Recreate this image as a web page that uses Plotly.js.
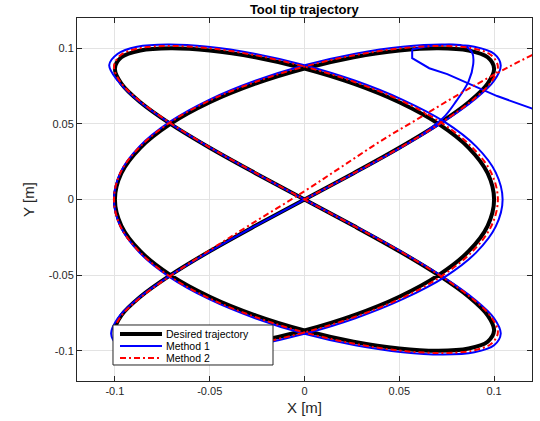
<!DOCTYPE html>
<html>
<head>
<meta charset="utf-8">
<script src="https://cdn.plot.ly/plotly-3.0.1.min.js"></script>
<style>html,body{margin:0;padding:0;background:#fff;}#chart{width:540px;height:421px;}</style>
</head>
<body>
<div id="chart"></div>
<script>
// Desired trajectory
var desiredX = [0,-0.0259,-0.05,-0.0707,-0.0866,-0.0966,-0.1,-0.0966,-0.0866,-0.0707,-0.05,-0.0259,
  0,0.0259,0.05,0.0707,0.0866,0.0966,0.1,0.0966,0.0866,0.0707,0.05,0.0259,
  0,-0.0259,-0.05,-0.0707,-0.0866,-0.0966,-0.1,-0.0966,-0.0866,-0.0707,-0.05,-0.0259,
  0,0.0259,0.05,0.0707,0.0866,0.0966,0.1,0.0966,0.0866,0.0707,0.05,0.0259,
  0,-0.0259,-0.05,-0.0707,-0.0866,-0.0966,-0.1,-0.0966,-0.0866,-0.0707,-0.05,-0.0259,
  0,0.0259,0.05,0.0707,0.0866,0.0966,0.1,0.0966,0.0866,0.0707,0.05,0.0259,
  0];
var desiredY = [0,-0.0174,-0.0342,-0.05,-0.0643,-0.0766,-0.0866,-0.094,-0.0985,-0.1,-0.0985,-0.094,
  -0.0866,-0.0766,-0.0643,-0.05,-0.0342,-0.0174,0,0.0174,0.0342,0.05,0.0643,0.0766,
  0.0866,0.094,0.0985,0.1,0.0985,0.094,0.0866,0.0766,0.0643,0.05,0.0342,0.0174,
  0,-0.0174,-0.0342,-0.05,-0.0643,-0.0766,-0.0866,-0.094,-0.0985,-0.1,-0.0985,-0.094,
  -0.0866,-0.0766,-0.0643,-0.05,-0.0342,-0.0174,0,0.0174,0.0342,0.05,0.0643,0.0766,
  0.0866,0.094,0.0985,0.1,0.0985,0.094,0.0866,0.0766,0.0643,0.05,0.0342,0.0174,
  0];

// Method 1: start transient (enters from outside the view)
var m1StartX = [0.17,0.1205,0.1016,0.0874,0.0753,0.0658,0.0568,0.0568];
var m1StartY = [0.036,0.0599,0.0684,0.0763,0.0829,0.0868,0.0934,0.0993];
// Method 1: rest of the path
var m1X = [0.0568,0.066,0.077,0.0845,0.0885,0.089,0.0865,0.080,0.0732,0.062,0.051,0.0265,
  0,-0.0264,-0.051,-0.0721,-0.0883,-0.0985,-0.102,-0.0985,-0.0883,-0.0721,-0.051,-0.0264,
  0,0.0268,0.0518,0.0739,0.0905,0.1009,0.1045,0.1009,0.0905,0.0739,0.0518,0.0268,
  0,-0.0264,-0.051,-0.0721,-0.0883,-0.0985,-0.103,-0.0985,-0.0883,-0.0721,-0.051,-0.0264,
  0,0.0268,0.0518,0.0732,0.0896,0.1,0.1035,0.1,0.0896,0.0732,0.0518,0.0268,
  0,-0.026,-0.0503,-0.0711,-0.087,-0.0971,-0.1005,-0.0971,-0.087,-0.0711,-0.0503,-0.026,
  0,0.0268,0.0518,0.0732,0.0896,0.1,0.1035,0.1,0.0896,0.0732,0.0518,0.0268,
  0];
var m1Y = [0.0993,0.1015,0.1025,0.1015,0.097,0.0895,0.078,0.065,0.054,0.043,0.0345,0.0176,
  0,-0.0178,-0.0351,-0.0513,-0.0659,-0.0785,-0.0888,-0.0964,-0.101,-0.1025,-0.101,-0.0964,
  -0.0888,-0.0785,-0.0659,-0.0513,-0.0351,-0.0178,0,0.0178,0.0351,0.0513,0.0659,0.0785,
  0.0888,0.0964,0.101,0.1025,0.101,0.0964,0.0888,0.0785,0.0659,0.0513,0.0351,0.0178,
  0,-0.0178,-0.0351,-0.0513,-0.0659,-0.0785,-0.0888,-0.0964,-0.101,-0.1025,-0.101,-0.0964,
  -0.0888,-0.0785,-0.0659,-0.0513,-0.0351,-0.0178,0,0.0178,0.0351,0.0513,0.0659,0.0785,
  0.0888,0.0964,0.101,0.1025,0.101,0.0964,0.0888,0.0785,0.0659,0.0513,0.0351,0.0178,
  0];

// Method 2
var m2X = [0.16,0.12,0.1,0.08,0.06,0.04,0.02,0,-0.0284,-0.05,
  -0.0711,-0.087,-0.0971,-0.1005,-0.0971,-0.087,-0.0711,-0.0503,-0.026,
  0,0.0264,0.051,0.0721,0.0883,0.0985,0.102,0.0985,0.0883,0.0721,0.051,0.0264,
  0,-0.026,-0.0503,-0.0711,-0.087,-0.0971,-0.1005,-0.0971,-0.087,-0.0711,-0.0503,-0.026,
  0,0.0264,0.051,0.0721,0.0883,0.0985,0.102,0.0985,0.0883,0.0721,0.051,0.0264,
  0,-0.026,-0.0503,-0.0711,-0.087,-0.0971,-0.1005,-0.0971,-0.087,-0.0711,-0.0503,-0.026,
  0,0.0264,0.051,0.0721,0.0883,0.0985,0.102,0.0985,0.0883,0.0721,0.051,0.0264,
  0];
var m2Y = [0.12,0.0955,0.0825,0.0685,0.0535,0.0385,0.022,0.0055,-0.0165,-0.0335,
  -0.0508,-0.0653,-0.0777,-0.0879,-0.0954,-0.1,-0.1015,-0.1,-0.0954,
  -0.0879,-0.0777,-0.0653,-0.0508,-0.0347,-0.0177,0,0.0177,0.0347,0.0508,0.0653,0.0777,
  0.0879,0.0954,0.1,0.1015,0.1,0.0954,0.0879,0.0777,0.0653,0.0508,0.0347,0.0177,
  0,-0.0177,-0.0347,-0.0508,-0.0653,-0.0777,-0.0879,-0.0954,-0.1,-0.1015,-0.1,-0.0954,
  -0.0879,-0.0777,-0.0653,-0.0508,-0.0347,-0.0177,0,0.0177,0.0347,0.0508,0.0653,0.0777,
  0.0879,0.0954,0.1,0.1015,0.1,0.0954,0.0879,0.0777,0.0653,0.0508,0.0347,0.0177,
  0];

var tickVals = [-0.1,-0.05,0,0.05,0.1];
var tickText = ["-0.1","-0.05","0","0.05","0.1"];
var legendNames = ['Desired trajectory', 'Method 1', 'Method 2'];
var legendColors = ['#000000', '#0000ff', '#ff0000'];
var legendWidths = [4, 2, 2];
var legendDashes = ['solid', 'solid', '6px,3px,2px,3px'];

var traces = [
  {x: desiredX, y: desiredY, mode: 'lines', name: legendNames[0],
   line: {color: legendColors[0], width: legendWidths[0], shape: 'spline'}},
  {x: m1StartX, y: m1StartY, mode: 'lines', name: legendNames[1],
   line: {color: legendColors[1], width: legendWidths[1], shape: 'linear'}},
  {x: m1X, y: m1Y, mode: 'lines', name: legendNames[1],
   line: {color: legendColors[1], width: legendWidths[1], shape: 'spline'}},
  {x: m2X, y: m2Y, mode: 'lines', name: legendNames[2],
   line: {color: legendColors[2], width: legendWidths[2], shape: 'spline', dash: legendDashes[2]}}
];

// Compact legend box (drawn in paper coordinates)
var legBox = {x0: 0.0791, x1: 0.4308, y0: 0.0441, y1: 0.1543};
var legRowsY = [0.1295, 0.0964, 0.0634];
var shapes = [{type: 'rect', xref: 'paper', yref: 'paper', x0: legBox.x0, x1: legBox.x1,
  y0: legBox.y0, y1: legBox.y1, fillcolor: '#ffffff', line: {color: '#262626', width: 1}, layer: 'above'}];
var annotations = [];
for (var i = 0; i < legendNames.length; i++) {
  shapes.push({type: 'line', xref: 'paper', yref: 'paper', x0: 0.0945, x1: 0.1868,
    y0: legRowsY[i], y1: legRowsY[i], layer: 'above',
    line: {color: legendColors[i], width: legendWidths[i], dash: legendDashes[i]}});
  annotations.push({xref: 'paper', yref: 'paper', x: 0.1912, y: legRowsY[i], xanchor: 'left',
    yanchor: 'middle', showarrow: false, text: legendNames[i],
    font: {size: 10.5, color: '#000000', family: 'Liberation Sans, Arial, sans-serif'}});
}

var axisCommon = {
  range: [-0.12, 0.12], tickmode: 'array', tickvals: tickVals, ticktext: tickText,
  ticks: 'inside', ticklen: 5, tickcolor: '#262626', tickwidth: 1,
  showline: true, linecolor: '#262626', linewidth: 1, mirror: 'ticks',
  showgrid: true, gridcolor: '#e3e3e3', gridwidth: 1, zeroline: false,
  tickfont: {family: 'Liberation Sans, Arial, sans-serif', size: 11, color: '#262626'}
};

var layout = {
  width: 540, height: 421,
  margin: {l: 77, r: 8, t: 18, b: 40},
  paper_bgcolor: '#ffffff', plot_bgcolor: '#ffffff',
  font: {family: 'Liberation Sans, Arial, sans-serif', color: '#262626'},
  title: {text: '<b>Tool tip trajectory</b>', x: 0.5635, xanchor: 'center', y: 0.977, yanchor: 'middle',
          font: {size: 13, color: '#000000', family: 'Liberation Sans, Arial, sans-serif'}},
  xaxis: Object.assign({}, axisCommon, {title: {text: 'X [m]', standoff: 6, font: {size: 15, color: '#262626'}}}),
  yaxis: Object.assign({}, axisCommon, {title: {text: 'Y [m]', standoff: 10, font: {size: 15, color: '#262626'}}}),
  showlegend: false,
  shapes: shapes,
  annotations: annotations
};

Plotly.newPlot('chart', traces, layout, {displayModeBar: false, staticPlot: true});
</script>
</body>
</html>
